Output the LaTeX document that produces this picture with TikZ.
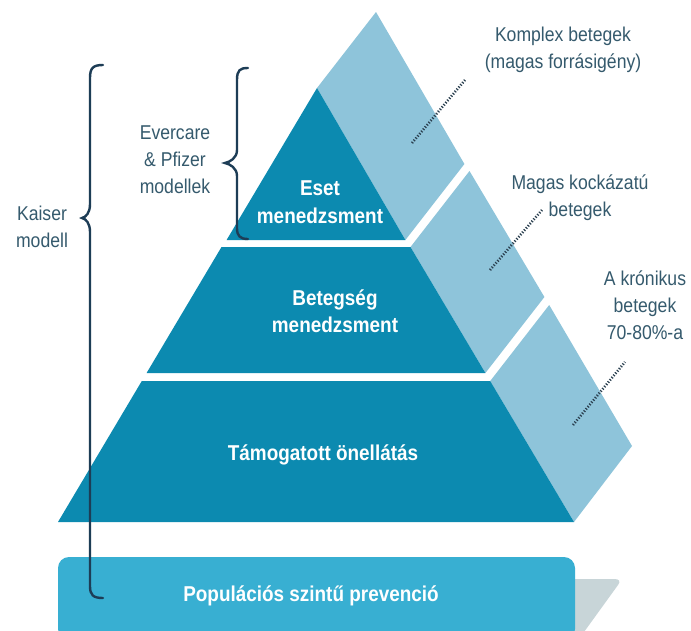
\documentclass[tikz,border=0pt]{standalone}
\usepackage{fontspec}
\setmainfont{Liberation Sans}[FakeStretch=0.88]
\begin{document}
\begin{tikzpicture}[x=1pt,y=-1pt,
  lbl/.style={text=labelc, align=center, inner sep=0pt, font=\fontsize{20}{27}\selectfont},
  inlbl/.style={text=white, align=center, inner sep=0pt, font=\bfseries\fontsize{21.5}{27.5}\selectfont},
  frontface/.style={fill=frontc, draw=none},
  sideface/.style={fill=sidec, draw=none},
  bracestyle/.style={draw=bracec, line width=2.4pt, line cap=round},
  leader/.style={draw=dotc, line width=2.6pt, dash pattern=on 1.2pt off 1.7pt}]
\definecolor{frontc}{HTML}{0C8AB0}
\definecolor{sidec}{HTML}{8EC4DA}
\definecolor{boxc}{HTML}{38AFD2}
\definecolor{shadowc}{HTML}{C8D5D8}
\definecolor{labelc}{HTML}{355A6D}
\definecolor{bracec}{HTML}{1D3D56}
\definecolor{dotc}{HTML}{2A3F4F}
\useasboundingbox (0,0) rectangle (691,630);
\fill[white] (0,0) rectangle (691,630);

% ---- side faces (light) ----
\fill[sideface] (317,88) -- (376,12) -- (464.4,164) -- (405.4,240) -- cycle;
\fill[sideface] (410.5,247) -- (469.5,171) -- (544.4,297) -- (485.4,373) -- cycle;
\fill[sideface] (490.2,381) -- (549.2,305) -- (632,446) -- (574,522) -- cycle;

% ---- front faces (dark) ----
\fill[frontface] (317,88) -- (405.4,240) -- (226.6,240) -- cycle;
\fill[frontface] (221.5,247) -- (410.5,247) -- (485.4,373) -- (146.6,373) -- cycle;
\fill[frontface] (141.8,381) -- (490.2,381) -- (574,522) -- (58,522) -- cycle;

% ---- base slab ----
\fill[shadowc] (568,579) -- (614,579) .. controls (619,579) and (621,581) .. (618,585) -- (584,632) -- (568,632) -- cycle;
\fill[boxc, rounded corners=11pt] (58,640) -- (58,557) -- (575,557) -- (575,640) -- cycle;

% ---- texts inside ----
\node[inlbl] (eset) at (320,202) {Eset\\menedzsment};
\node[inlbl] (beteg) at (335,311) {Betegség\\menedzsment};
\node[inlbl] (tamog) at (323,455) {Támogatott önellátás};
\node[inlbl] (pop) at (311,596) {Populációs szintű prevenció};

% ---- labels ----
\node[lbl] (kaiser) at (42,227) {Kaiser\\modell};
\node[lbl] (ever) at (175,160) {Evercare\\\& Pfizer\\modellek};
\node[lbl] (komplex) at (563,50) {Komplex betegek\\(magas forrásigény)};
\node[lbl] (magas) at (580,198) {Magas kockázatú\\betegek};
\node[lbl] (kron) at (645,305) {A krónikus\\betegek\\70-80\%-a};

% ---- leaders ----
\coordinate (k1) at (412,143); \coordinate (k2) at (465,80);
\coordinate (m1) at (490,270); \coordinate (m2) at (542,210);
\coordinate (c1) at (573,425); \coordinate (c2) at (625,362);
\draw[leader] (k1) -- (k2);
\draw[leader] (m1) -- (m2);
\draw[leader] (c1) -- (c2);

% ---- braces ----
\draw[bracestyle] (103,65) .. controls (93,65) and (90,68) .. (90,78) -- (90,204)
  .. controls (90,213) and (86,217) .. (82,218) .. controls (86,219) and (90,223) .. (90,232)
  -- (90,586) .. controls (90,595) and (93,598) .. (103,598);
\draw[bracestyle] (248,68) .. controls (240,68) and (237,70) .. (237,80) -- (237,150)
  .. controls (237,158) and (230,162) .. (225,163) .. controls (230,164) and (237,168) .. (237,176)
  -- (237,228) .. controls (237,236) and (240,239) .. (248,239);
\end{tikzpicture}
\end{document}
